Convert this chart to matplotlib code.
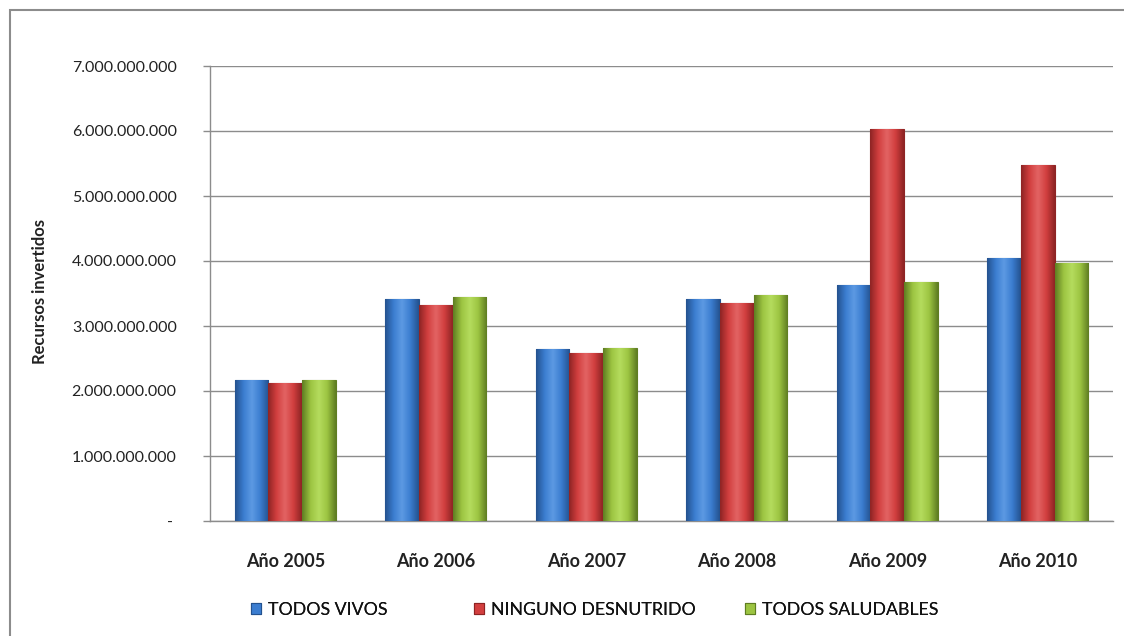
import numpy as np
import matplotlib
matplotlib.use("Agg")
import matplotlib.pyplot as plt
from matplotlib.ticker import FuncFormatter
from matplotlib.patches import Rectangle
from matplotlib.colors import LinearSegmentedColormap

categories = ["Año 2005", "Año 2006", "Año 2007", "Año 2008", "Año 2009", "Año 2010"]
series_names = ["TODOS VIVOS", "NINGUNO DESNUTRIDO", "TODOS SALUDABLES"]
todos_vivos = [2.17e9, 3.41e9, 2.645e9, 3.415e9, 3.635e9, 4.05e9]
ninguno_desnutrido = [2.13e9, 3.33e9, 2.58e9, 3.36e9, 6.025e9, 5.47e9]
todos_saludables = [2.175e9, 3.45e9, 2.665e9, 3.475e9, 3.67e9, 3.965e9]
y_ticks = [0, 1e9, 2e9, 3e9, 4e9, 5e9, 6e9, 7e9]

colors = ["#3b7dd0", "#d23f3f", "#9cc441"]
dark = ["#24528f", "#8e2424", "#5f7d22"]
light = ["#5d9ae3", "#e36464", "#b5dc5e"]

plt.rcParams['font.family'] = ['Lato', 'DejaVu Sans']

W, H = 1124, 636
fig = plt.figure(figsize=(W / 100, H / 100), dpi=100)
ax = fig.add_axes([210 / W, 1 - 521 / H, (1113 - 210) / W, (521 - 66) / H])

x = np.arange(len(categories))
bw = 0.223
data = [todos_vivos, ninguno_desnutrido, todos_saludables]
handles = []
for i, vals in enumerate(data):
    bars = ax.bar(x + (i - 1) * bw, vals, width=bw, color=colors[i],
                  edgecolor=dark[i], linewidth=0.8, label=series_names[i], zorder=3)
    handles.append(bars)
    cmap = LinearSegmentedColormap.from_list("g%d" % i, [dark[i], colors[i], light[i], colors[i], dark[i]])
    grad = np.linspace(0, 1, 64).reshape(1, -1)
    for b in bars:
        x0, y0 = b.get_x(), b.get_y()
        w, h = b.get_width(), b.get_height()
        im = ax.imshow(grad, cmap=cmap, aspect='auto', extent=(x0, x0 + w, y0, y0 + h),
                       zorder=3.5, interpolation='bicubic')
        im.set_clip_path(b)

ax.set_xlim(-0.5, len(categories) - 0.5)
ax.set_ylim(0, 7e9)
ax.set_yticks(y_ticks)

def fmt(v, pos):
    if v == 0:
        return "- "
    return "{:,.0f}".format(v).replace(",", ".")

ax.yaxis.set_major_formatter(FuncFormatter(fmt))
ax.set_xticks(x)
ax.set_xticklabels(categories, fontsize=13, color="#222222", fontweight='bold')
ax.tick_params(axis='x', length=0, pad=23)
ax.tick_params(axis='y', length=5, width=1, color="#8c8c8c", labelsize=11.5,
               labelcolor="#222222", pad=19)
ax.grid(axis='y', color="#8c8c8c", linewidth=1, zorder=0)
ax.set_axisbelow(True)
for s in ["top", "right"]:
    ax.spines[s].set_visible(False)
for s in ["left", "bottom"]:
    ax.spines[s].set_color("#8c8c8c")
    ax.spines[s].set_linewidth(1)

ax.set_ylabel("Recursos invertidos", fontsize=12, color="#222222", fontweight='bold')
ax.yaxis.set_label_coords((48 - 210) / (1113 - 210), (521 - 292) / (521 - 66))

leg_x = [251, 474, 745]
for i in range(3):
    leg = fig.legend([handles[i]], [series_names[i]], loc='center left',
                     bbox_to_anchor=(leg_x[i] / W, 1 - 610 / H), frameon=False,
                     prop={'size': 12.8},
                     handlelength=0.55, handleheight=0.55, handletextpad=0.4,
                     borderpad=0, borderaxespad=0)
    for t in leg.get_texts():
        t.set_color("#111111")
    fig.add_artist(leg)

border = Rectangle((10 / W, -0.1), 1.2, 1 - 10 / H + 0.1, transform=fig.transFigure,
                   fill=False, edgecolor="#8c8c8c", linewidth=1.5)
fig.patches.append(border)

fig.savefig("out.png", dpi=100)
